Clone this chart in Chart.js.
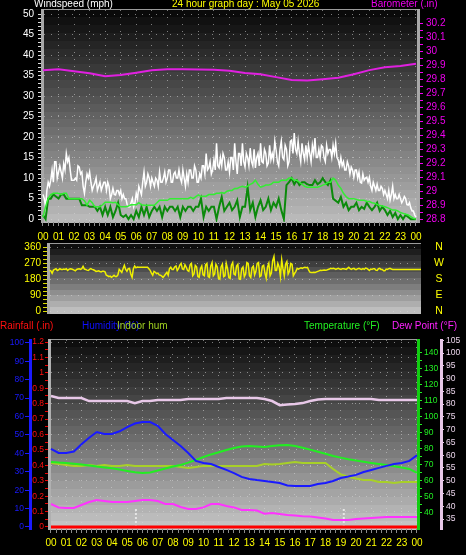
<!DOCTYPE html>
<html>
<head>
<meta charset="utf-8">
<script src="https://cdn.jsdelivr.net/npm/chart.js@4.4.1/dist/chart.umd.min.js"></script>
<style>
html,body{margin:0;padding:0;background:#000;}
body{position:relative;width:466px;height:555px;overflow:hidden;}
canvas{position:absolute;left:0;}
.t{position:absolute;font-family:"Liberation Sans",Arial,sans-serif;font-size:10px;line-height:12px;white-space:nowrap;}
</style>
</head>
<body>
<canvas id="c1" width="466" height="242" style="top:0px"></canvas>
<canvas id="c2" width="466" height="80" style="top:240px"></canvas>
<canvas id="c3" width="466" height="235" style="top:320px"></canvas>
<div class="t" style="left:34px;top:-2px;color:#ffffff">Windspeed (mph)</div>
<div class="t" style="left:172px;top:-2px;color:#ffff00">24 hour graph day : May 05 2026</div>
<div class="t" style="left:371px;top:-2px;color:#ee00ee">Barometer (.in)</div>
<div class="t" style="left:0px;top:320px;color:#ff1010">Rainfall (.in)</div>
<div class="t" style="left:82px;top:320px;color:#1010ff">Humidity (%)</div>
<div class="t" style="left:117px;top:320px;color:#a0d020">Indoor hum</div>
<div class="t" style="left:304px;top:320px;color:#22ee22">Temperature (°F)</div>
<div class="t" style="left:392px;top:320px;color:#ff22ff">Dew Point (°F)</div>
<script>
// ---------- DATA ----------
const hourLabels = ['00','01','02','03','04','05','06','07','08','09','10','11','12','13','14','15','16','17','18','19','20','21','22','23','00'];
const compassLabels = ['N','E','S','W','N'];
const compassValues = [0, 90, 180, 270, 360];

// wind gust: 5-minute samples, 00:00 .. 24:00
const windGust = [
 6,5,3,7,9,8,9.5,12,9,14,14,10,
 11.5,13,11.5,10,13.5,12,16,14,15,12,9.5,9.5,
 9.5,10,9.5,13,12.7,11,11.5,8,6.3,9,11,10,
 11.5,9,7,8,8.8,10,7,8,9,7,8,9,
 9,7,9,8,5,6,7.5,6,5.9,7,7,6,
 7,5,6,5,5,3.5,3,3,4,5,3,4,
 6.3,5,8,7,6,9,11.5,8,9,11,10,8,
 10,9,8,10,9.5,8,11.5,9,9,10,11.5,9,
 10,12,12,9,9,11,11.5,10,10,12,10,9,
 12,10,8,11,9,12,12,10,10,13,12,9,
 9,11,10,13,13,11,16,12,12.5,14,11,12,
 14.5,12,18.5,13,12.5,15,13,16,15,12,12,14,
 11.5,15,15,12,18.5,14,11,16,16,13,18.5,14,
 12.7,16,15,13,17.3,14,13,17,12.5,15,16,13,
 18.5,14,13.7,17,16,13,13.7,18,14.5,16,14.5,19,
 16.8,14,13,17,19,15,14.5,18,17,13,14,19,
 19.3,16,21,17,16,19,16,14,18.5,16,14.5,18,
 15,18,16,14,18,16,19.8,15,15,17,15,18,
 17.6,15,14,18,16,17,17,15,18,16,18.5,15,
 14.4,13,15,13,14,12,12,14,13,11,12.7,12,
 10.2,12,12,10,11.5,9,8.8,11,9.5,10,10.2,9,
 10.2,8,7,9,8,7,8.5,7,7,8,7.5,6,
 7,6,5,7,4.6,6,8,5,6,5,5,6,
 5,4,4.6,5.5,5,3.5,3.4,4,2.7,2,2,1,
 0.5];
// wind average / speed: 10-minute samples
const windAvg = [
 0.5,3,5,6,6.3,6.3,
 6.3,6,6.3,6.3,5,5,
 5,5,5,5,4.5,3.4,
 4.6,4,3,3,3,3.5,
 4.1,4.1,4.1,4,4.1,3.5,
 3,3,3,3.2,3.5,3.5,
 3.5,4,3.5,3.4,3.4,3.4,
 3.4,3.4,4,4.6,4.6,4.6,
 4.6,5,5,5,5,5,
 5,5,5,5.3,5,5.5,
 5.9,5.5,5.6,5.6,6,6,
 6,6.3,6.3,6.5,6.3,6.8,
 7,7,7.5,7.5,7.8,8,
 7.8,8,8.5,8.8,9.5,8.5,
 7.8,8,8.3,8.3,8.5,9,
 9,9,9.5,9.5,9.5,10,
 10,9.5,9.5,9,8.5,8,
 7.8,7.8,7.8,7.8,7.8,8,
 8.3,8.5,9,9,10,9.5,
 8.3,7.5,6.3,5.5,5,5,
 5,4.8,4.6,4.6,4.6,4.3,
 4.3,4,3.9,3.6,3.3,3.2,
 3,2.8,2.5,2.2,2.2,2,
 1.6,1.4,1.2,1,0.6,0.2,
 0];
const windSpeed = [
 1,0,5,5,6,5.5,
 5,6,6,5,5,5,
 5,5,5,3.4,3.4,3.4,
 3,3,3,2,3,1,
 3,1,3,0.5,2,4,
 1,0.5,1,0,1,0,
 2,0.5,3,1,3,0.5,
 2,3,2,3,0.5,3,
 2,3,3,2,3,0.5,
 3,2,3,3,2,3,
 3,5,0.5,3,2,3,
 3,0,3,5.4,2,3,
 4,2.2,3,4.6,0.5,3,
 3,7.8,2.2,4,0.5,3,
 4.6,2.2,3,5,2.2,4,
 3,5,2.2,0,8.3,9,
 10,8.5,9.5,8.3,9,9,
 8.5,8.3,8.3,9.5,8.5,9,
 10,9,8.3,9.5,5,4.5,
 4,5.4,3,4,2.2,3,
 3,4,2.2,3,2.5,4,
 3,2.2,3,4,2,3,
 2.2,1,2,0.5,1.5,0,
 1,0,1,0.5,0,0,
 0];
// wind direction: 5-minute samples
const windDir = [
 231,228,214,232,236,240,230,234,240,236,235,238,
 236,240,230,236,240,238,236,232,228,236,238,240,
 236,240,253,238,236,232,230,236,240,236,234,230,
 225,226,228,224,222,226,226,222,203,200,195,198,
 191,196,203,196,196,205,236,228,219,240,259,236,
 225,240,242,210,191,240,255,245,250,248,248,248,
 248,248,248,248,248,240,231,215,203,225,220,212,
 215,205,203,198,191,200,210,220,203,240,248,236,
 236,250,255,230,240,260,270,238,235,262,248,230,
 225,262,270,200,210,258,250,195,191,240,255,205,
 200,262,270,195,190,255,275,200,210,265,250,185,
 180,250,265,195,200,270,240,190,185,260,275,210,
 205,255,265,182,180,240,250,195,210,275,270,200,
 190,245,255,205,225,270,275,195,200,255,260,215,
 186,250,270,200,215,285,309,230,230,270,250,195,
 290,240,200,265,280,210,225,270,265,200,214,225,
 242,238,242,245,242,246,248,246,248,230,219,218,
 219,220,219,222,225,228,231,230,231,232,231,233,
 236,238,242,240,242,240,236,240,242,238,236,240,
 240,238,236,242,248,240,236,240,242,236,236,240,
 242,238,236,240,236,244,242,236,230,238,236,240,
 240,232,230,240,242,236,236,228,228,238,236,240,
 242,238,236,236,236,236,236,236,236,236,236,236,
 236,236,236,236,236,236,236,236,236,236,236,236,
 236];
// barometer: hourly
const barometer = [29.864,29.871,29.857,29.843,29.822,29.83,29.847,29.864,29.871,29.871,29.87,29.868,29.86,29.845,29.835,29.815,29.795,29.79,29.8,29.81,29.835,29.865,29.885,29.895,29.91];

// bottom panel: half-hourly samples
const humidity = [42.4,40.2,40.2,41,45,48.5,51.6,50.5,50.5,52,54.3,56.2,57,57,55,50.5,47.3,44,40.2,35.9,34.8,34.2,32.6,31,29.3,27.2,26.1,25.5,25,24.5,23.9,22.5,22.3,22.3,22.3,23.4,23.9,25,26.6,27.4,28.3,29.9,31,32.1,33.2,34.2,34.8,35.9,39];
const temperature = [71.9,71.5,71.3,70.8,70.3,69.7,69,68.5,67.9,67.2,66.3,65.5,65,65.3,66.5,67.8,69,70,71.5,73.2,75,76.6,78,79.4,80.6,81.5,81.9,81.6,81.3,81.9,82.3,82.5,81.9,80.8,79.6,78.3,77,75.6,74.6,73.6,72.8,72,71.3,70.6,70,69.2,68.4,67.5,65];
const dewPoint = [45.6,43.5,43.1,43.1,45,46.9,48.1,47.5,46.9,46.9,46.9,47.5,48.1,48.1,47.5,45.6,45.6,43.75,42.5,42.5,43.5,45.6,45.6,44.4,43.5,41.9,41.9,41.5,39.5,40,39.4,38.75,38.4,38,37.8,37.2,36.5,35.6,35.6,35.6,36.2,36.6,36.9,37.2,37.5,37.5,37.5,37.5,37.5];
const indoorHum = [34.8,34.2,33.7,33.2,33.2,33.7,33.2,33.7,33.2,33.2,33.7,33.2,33.2,33.2,33.2,33.2,33.2,32.6,32.1,32.6,33.2,33.2,33.2,33.2,33.2,33.2,33.2,33.2,34.2,34,34.2,34.8,35.3,34.8,34.8,34.8,34.8,31.5,28.6,27.3,26.3,25.5,25.5,24.5,24.5,23.9,24.5,24.5,24.5];
const indoorTemp = [83.2,82.4,82.4,82.4,82.4,81.2,81.2,81.2,81.2,81.2,81.2,80.4,81.2,81.2,81.6,81.6,81.6,81.6,82,82,82,82,82,82.4,82.4,82.4,82.4,82.4,82,81.2,79.6,79.8,80,80.4,81.2,81.8,82,82,82,82,82,82,82,81.6,81.6,81.6,81.6,81.6,81.6];
const rainfall = [0,0,0,0,0,0,0,0,0,0,0,0,0,0,0,0,0,0,0,0,0,0,0,0,0];
const sunTimes = [5.57, 19.2];
const sunMarkHeight = 10;

// ---------- HELPERS ----------
Chart.defaults.font.family = '"Liberation Sans", Arial, sans-serif';
Chart.defaults.font.size = 10;
Chart.defaults.animation = false;
const DOT = 'rgba(215,215,215,0.55)';
const NONE = 'rgba(0,0,0,0)';
const narrow = {family:'"Liberation Sans Narrow","Liberation Sans",Arial,sans-serif', size:8.5};

const pts = (arr, step) => arr.map((v, i) => ({x: i * step, y: v}));
const fixW = w => s => { s.width = w; s.paddingTop = 0; s.paddingBottom = 0; };
const fixH = h => s => { s.height = h; s.paddingLeft = 0; s.paddingRight = 0; };
const setTicks = vals => s => { s.ticks = vals.map(v => ({value: v})); };
const steps = (a, b, n) => { const r = []; for (let k = 0; k <= n; k++) r.push(a + (b - a) * k / n); return r; };

const hourTicks = steps(0, 24, 72);
const isHourTick = v => { const k = Math.round(v * 3); return k % 3 === 0; };
const hourCb = v => isHourTick(v) ? hourLabels[Math.round(v)] : '';
const lineDs = (label, data, axis, color, width, extra) => Object.assign({
  label, data, yAxisID: axis, borderColor: color, backgroundColor: color,
  borderWidth: width, pointRadius: 0, tension: 0, fill: false
}, extra || {});

const bgPlugin = {
  id: 'bg',
  beforeDraw(chart, args, o) {
    const {ctx, chartArea: a} = chart;
    const H = a.bottom - a.top;
    const n = Math.max(1, Math.round(H / o.band));
    const h = H / n;
    ctx.save();
    for (let i = 0; i < n; i++) {
      const t = n === 1 ? 0 : i / (n - 1);
      const c = Math.round(o.from + (o.to - o.from) * t);
      ctx.fillStyle = 'rgb(' + c + ',' + c + ',' + c + ')';
      ctx.fillRect(a.left, Math.floor(a.top + i * h), a.right - a.left, Math.ceil(h) + 1);
    }
    ctx.fillStyle = '#9a9a9a';
    ctx.fillRect(a.left, a.top - 1, a.right - a.left, 1);
    ctx.restore();
  }
};

const xAxis = (min, max, height, pad) => ({
  type: 'linear', position: 'bottom', min, max,
  afterBuildTicks: setTicks(hourTicks), afterFit: fixH(height),
  ticks: {autoSkip: false, maxRotation: 0, minRotation: 0, color: '#ffff00', padding: pad, callback: hourCb},
  grid: {color: c => (c.tick && isHourTick(c.tick.value)) ? DOT : NONE, tickColor: '#8c8c8c', tickLength: 4, lineWidth: 1},
  border: {display: false, dash: [1, 6]}
});

// ---------- TOP: wind speed + barometer ----------
new Chart(document.getElementById('c1'), {
  type: 'line',
  plugins: [bgPlugin],
  data: {datasets: [
    lineDs('Wind average', pts(windAvg, 1/6), 'yW', '#33ee33', 1.5),
    lineDs('Wind speed', pts(windSpeed, 1/6), 'yW', '#0b8a0b', 2),
    lineDs('Wind gust', pts(windGust, 1/12), 'yW', '#ffffff', 1.5),
    lineDs('Barometer', pts(barometer, 1), 'yB', '#e020e0', 2)
  ]},
  options: {
    responsive: false, devicePixelRatio: 1,
    layout: {padding: {top: 10, left: 0, right: 0, bottom: 0}},
    plugins: {legend: {display: false}, tooltip: {enabled: false}, bg: {from: 10, to: 185, band: 8}},
    scales: {
      x: xAxis(-0.064, 24.13, 20, 5),
      yW: {type: 'linear', position: 'left', min: -0.7, max: 51,
        afterBuildTicks: setTicks(steps(0, 50, 50)), afterFit: fixW(42),
        ticks: {autoSkip: false, color: '#ffffff', padding: 4, callback: v => (Math.round(v) % 5 === 0 ? String(Math.round(v)) : '')},
        grid: {color: c => (c.tick && Math.round(c.tick.value) % 5 === 0) ? DOT : NONE, tickColor: '#dddddd', tickLength: 4},
        border: {display: true, color: '#a8a8a8', width: 3, dash: [1, 6]}},
      yB: {type: 'linear', position: 'right', min: 28.779, max: 30.295,
        afterBuildTicks: setTicks(steps(28.8, 30.2, 28)), afterFit: fixW(48),
        ticks: {autoSkip: false, color: '#ee00ee', padding: 3, callback: (v, i) => (i % 2 === 0 ? String(+v.toFixed(1)) : '')},
        grid: {drawOnChartArea: false, tickColor: '#ee00ee', tickLength: 5},
        border: {display: true, color: '#a8a8a8', width: 3}}
    }
  }
});

// ---------- MIDDLE: wind direction ----------
new Chart(document.getElementById('c2'), {
  type: 'line',
  plugins: [bgPlugin],
  data: {datasets: [
    lineDs('Wind direction', pts(windDir, 1/12), 'yD', '#f0f000', 1.5)
  ]},
  options: {
    responsive: false, devicePixelRatio: 1,
    layout: {padding: {top: 4, left: 0, right: 9, bottom: 7}},
    plugins: {legend: {display: false}, tooltip: {enabled: false}, bg: {from: 14, to: 190, band: 6}},
    scales: {
      x: {type: 'linear', min: -0.1, max: 24, display: false},
      yD: {type: 'linear', position: 'left', min: -11, max: 380,
        afterBuildTicks: setTicks(steps(0, 360, 16)), afterFit: fixW(48),
        ticks: {autoSkip: false, color: '#ffff00', padding: 2, callback: v => (Math.round(v) % 90 === 0 ? String(Math.round(v)) : '')},
        grid: {color: c => (c.tick && Math.round(c.tick.value) % 90 === 0) ? DOT : NONE, tickColor: '#dada00', tickLength: 5},
        border: {display: true, color: '#a8a8a8', width: 3, dash: [1, 6]}},
      yC: {type: 'linear', position: 'right', min: -11, max: 380,
        afterBuildTicks: setTicks(compassValues), afterFit: fixW(36),
        ticks: {autoSkip: false, color: '#ffff00', crossAlign: 'center', padding: 13, font: {size: 10.5}, callback: (v, i) => compassLabels[i]},
        grid: {display: false, drawTicks: false, drawOnChartArea: false},
        border: {display: false}}
    }
  }
});

// ---------- BOTTOM: rain, humidity, temperature ----------
const sunData = [];
sunTimes.forEach((t, i) => {
  if (i > 0) sunData.push({x: t - 0.01, y: null});
  sunData.push({x: t, y: 0}, {x: t, y: sunMarkHeight});
});

new Chart(document.getElementById('c3'), {
  type: 'line',
  plugins: [bgPlugin],
  data: {datasets: [
    lineDs('Rainfall', pts(rainfall, 1), 'yR', '#ff0000', 3),
    lineDs('Humidity', pts(humidity, 0.5), 'yH', '#1a1aff', 2),
    lineDs('Temperature', pts(temperature, 0.5), 'yT', '#22ee22', 2),
    lineDs('Dew Point', pts(dewPoint, 0.5), 'yT', '#ff33ff', 2),
    lineDs('Indoor hum', pts(indoorHum, 0.5), 'yH', '#a8d028', 2),
    lineDs('Indoor temp', pts(indoorTemp, 0.5), 'yL', '#e8c8e8', 2.5),
    lineDs('Sun', sunData, 'yH', '#e6e6e6', 2, {borderDash: [2, 2], spanGaps: false})
  ]},
  options: {
    responsive: false, devicePixelRatio: 1,
    layout: {padding: {top: 20, left: 0, right: 0, bottom: 0}},
    plugins: {legend: {display: false}, tooltip: {enabled: false}, bg: {from: 14, to: 195, band: 8}},
    scales: {
      x: xAxis(-0.13, 24.066, 26, 4),
      yR: {type: 'linear', position: 'left', weight: 0, min: -0.013, max: 1.213,
        afterBuildTicks: setTicks(steps(0, 1.2, 24)), afterFit: fixW(19),
        ticks: {autoSkip: false, color: '#ff1010', padding: 1, font: narrow, callback: (v, i) => (i % 2 === 0 ? String(+v.toFixed(1)) : '')},
        grid: {color: c => (c.tick && c.index % 2 === 0) ? DOT : NONE, tickColor: '#ee0000', tickLength: 4},
        border: {display: true, color: '#b0b0b0', width: 3, dash: [1, 6]}},
      yH: {type: 'linear', position: 'left', weight: 1, min: -1.1, max: 101.6,
        afterBuildTicks: setTicks(steps(0, 100, 10)), afterFit: fixW(30),
        ticks: {autoSkip: false, color: '#1a1aff', padding: 1, font: narrow, callback: v => String(Math.round(v))},
        grid: {drawOnChartArea: false, tickColor: '#1a1aff', tickLength: 5},
        border: {display: true, color: '#1a1aff', width: 3}},
      yT: {type: 'linear', position: 'right', weight: 0, min: 30, max: 148.1,
        afterBuildTicks: setTicks(steps(40, 140, 20)), afterFit: fixW(23),
        ticks: {autoSkip: false, color: '#22ee22', padding: 2, font: narrow, callback: (v, i) => (i % 2 === 0 ? String(Math.round(v)) : '')},
        grid: {drawOnChartArea: false, tickColor: '#22ee22', tickLength: 4},
        border: {display: true, color: '#11cc11', width: 3}},
      yL: {type: 'linear', position: 'right', weight: 1, min: 31.1, max: 105.1,
        afterBuildTicks: setTicks(steps(35, 105, 14)), afterFit: fixW(25),
        ticks: {autoSkip: false, color: '#ead4ea', padding: 2, font: narrow, callback: v => String(Math.round(v))},
        grid: {drawOnChartArea: false, tickColor: '#e8c8e8', tickLength: 3},
        border: {display: true, color: '#e8c8e8', width: 3}}
    }
  }
});
</script>
</body>
</html>
